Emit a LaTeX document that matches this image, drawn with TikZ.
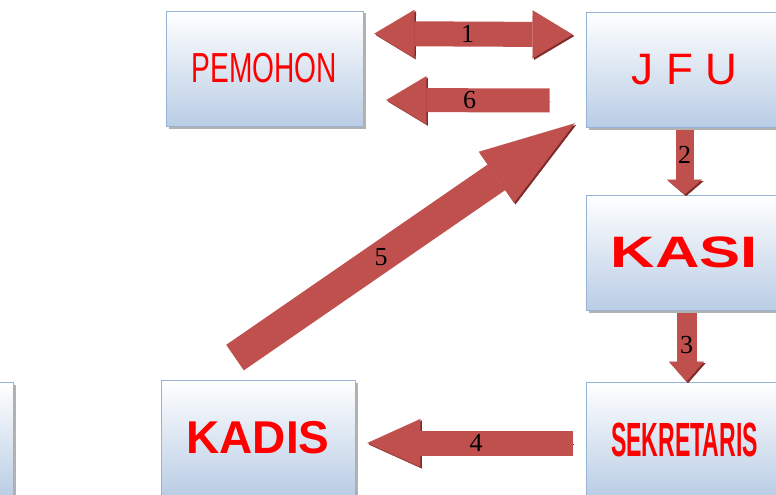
\documentclass[tikz,border=0pt]{standalone}
\usepackage{fontspec}
\usepackage{graphicx}
\setmainfont{Liberation Sans}
\newfontfamily\numfont{Liberation Serif}
\usetikzlibrary{arrows.meta}
\usetikzlibrary{shadows}
\usetikzlibrary{calc}

\definecolor{boxline}{HTML}{95B3D7}
\definecolor{boxblue}{HTML}{B9CDE5}
\definecolor{arrowred}{HTML}{C0504D}
\definecolor{arrowdark}{HTML}{7E2A28}

\tikzset{
  unitbox/.style={draw=boxline, line width=0.8pt, top color=white, bottom color=boxblue,
    minimum width=197pt, minimum height=115pt, inner sep=0pt, text=red,
    general shadow={fill=black!30, shadow xshift=2.5pt, shadow yshift=-2.5pt}},
  flowarrow/.style={draw=arrowred, line width=#1,
    preaction={draw=arrowdark, transform canvas={shift={(1.5pt,-1.5pt)}}}},
  steplabel/.style={font=\numfont\fontsize{26}{26}\selectfont, text=black, inner sep=0pt},
}

\begin{document}
\begin{tikzpicture}[x=1pt,y=-1pt]
      \useasboundingbox (0,0) rectangle (776,495);
      \node[unitbox] (pemohon) at (264.5,68.5) {\fontsize{42}{42}\selectfont\scalebox{0.67}[1]{PEMOHON}};
      \node[unitbox] (jfu) at (684.5,69.5) {\fontsize{44}{44}\selectfont J F U};
      \node[unitbox] (kasi) at (684.5,252.5) {\fontsize{44}{44}\selectfont\bfseries\scalebox{1.4}[1]{KASI}};
      \node[unitbox] (sekretaris) at (684.5,439.5) {\fontsize{48}{48}\selectfont\bfseries\scalebox{0.48}[1]{SEKRETARIS}};
      \node[unitbox, minimum width=194pt] (kadis) at (258,437.5) {\fontsize{46}{46}\selectfont\bfseries KADIS};
      \node[unitbox] (leftbox) at (-85.5,439.5) {}; % box cut off at the left edge

      \draw[flowarrow=25pt, {Triangle[length=40pt,width=48pt,line width'=0.1pt]}-{Triangle[length=40pt,width=48pt,line width'=0.1pt]}]
        ($(pemohon.north east)+(11,23)$) -- ($(jfu.north west)+(-13,23)$) node[steplabel, pos=0.47] {1};
      \draw[flowarrow=24pt, -{Triangle[length=40pt,width=48pt,line width'=0.1pt]}]
        ($(jfu.west)+(-36,31)$) -- ($(pemohon.east)+(23,31.5)$) node[steplabel, pos=0.49] {6};
      \draw[flowarrow=18pt, -{Triangle[length=15pt,width=35pt,line width'=0.1pt]}]
        ($(jfu.south)+(0,3)$) -- (kasi.north) node[steplabel, pos=0.38] {2};
      \draw[flowarrow=20pt, -{Triangle[length=20pt,width=35pt,line width'=0.1pt]}]
        ($(kasi.south)+(2,3)$) -- ($(sekretaris.north)+(2,0)$) node[steplabel, pos=0.46] {3};
      \draw[flowarrow=25pt, -{Triangle[length=53pt,width=48pt,line width'=0.1pt]}]
        ($(sekretaris.west)+(-13,3.5)$) -- ($(kadis.east)+(12,5.5)$) node[steplabel, pos=0.47] {4};
      \draw[flowarrow=31pt, -{Triangle[length=95pt,width=62pt,line width'=0.1pt]}]
        ($(kadis.north)+(-23,-22)$) -- ($(jfu.south west)+(-11,-4)$) node[steplabel, pos=0.43] {5};
\end{tikzpicture}
\end{document}
